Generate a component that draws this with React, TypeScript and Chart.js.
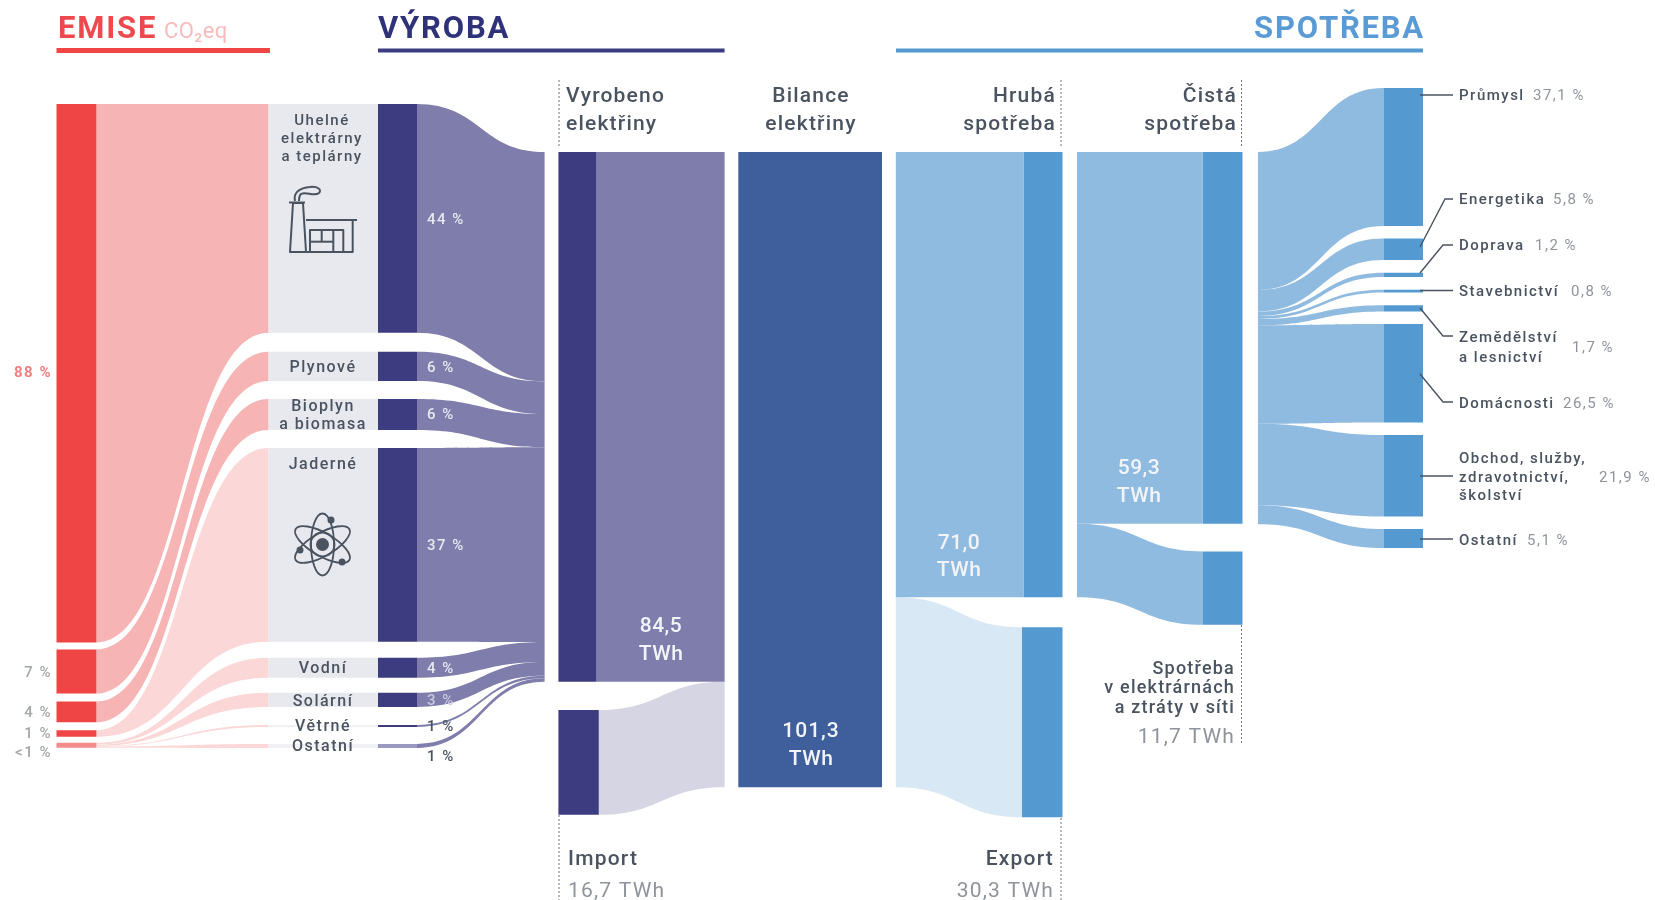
import React, { useEffect, useRef } from "react";
import { Chart, registerables } from "chart.js";

Chart.register(...registerables);

// ---- values ----
const grossTWh = 71.0;
const exportTWh = 30.3;
const netTWh = 59.3;
const ownUseTWh = 11.7;
const generatedTWh = 84.5;
const importTWh = 16.7;
const balanceTWh = 101.3;

const plantNames = ["Uhelné", "Plynové", "Bioplyn", "Jaderné", "Vodní", "Solární", "Větrné", "Ostatní"];
const plantBarTWh = [36.5, 4.65, 4.95, 30.9, 3.2, 2.25, 0.32, 0.64];
const plantFlowTWh = [36.6, 5.2, 5.3, 31.05, 3.2, 2.2, 0.4, 0.55];
const plantGapsTWh = [3.03, 2.87, 2.87, 2.55, 2.39, 2.87, 2.71];
const emissionBarPct = [88, 7.2, 3.4, 1.05, 0.8];
const emissionBarGapsPct = [1.14, 1.3, 1.3, 0.98];
const emissionFlowPct = [88, 7.2, 3.4, 1.05, 0.3, 0.2, 0.1, 0.2];
const sectorPct = [37.1, 5.8, 1.2, 0.8, 1.7, 26.5, 21.9, 5.1];

// ---- layout ----
const W = 1655;
const H = 900;
const PX_PER_TWH = 6.27;
const PX_PER_PCT = 6.12;
const TOP_TWH_PX = 152;
const TOP_PCT_PX = 104;
const PLANT_START = -7.66;
const SECTOR_START = -10.2;
const SECTOR_GAP = 2.0;
const IMPORT_START = 89;
const EXPORT_START = 75.8;
const OWN_START = 63.7;

const X = {
  red: [56.5, 96.4], pink: [96.4, 268.6], grey: [268.6, 378], navy: [378, 417], flow: [417, 544.6],
  gen: [558.4, 596.5], genFlow: [596.5, 724.6], imp: [558.4, 598.8], impFlow: [598.8, 724.6],
  bal: [738.3, 882], gross: [895.8, 1023.5], grossDark: [1023.5, 1062.5], exp: [895.8, 1022], expDark: [1022, 1062.5],
  net: [1077, 1202.5], netDark: [1202.5, 1242.5], own: [1077, 1203], ownDark: [1203, 1242.5],
  sec: [1258, 1383.5], secDark: [1383.5, 1423],
};

const C = {
  red: "#EF4545", redSoft: "#F58A8A", pink: "#F7B4B4", blush: "#FBD8D7", grey: "#E8E9EF", greyThin: "#F1F1F5",
  navy: "#3D3C80", navySoft: "#9A99C2", purple: "#7F7DAB", lilac: "#D6D5E4",
  bal: "#3E5F9B", sky: "#90BBE0", blue: "#5499D0", pale: "#D9E8F5",
  text: "#4A5360", mute: "#8F949C",
};

type Span = [number, number];
const stackGapped = (vals: number[], start: number, gaps: number[]): Span[] => {
  let p = start;
  return vals.map((v, i) => {
    const s: Span = [p, p + v];
    p += v + (gaps[i] ?? 0);
    return s;
  });
};
const stack = (vals: number[], start: number): Span[] => stackGapped(vals, start, []);

const sectorTWh = sectorPct.map((p) => (p * netTWh) / 100);
const plantBars = stackGapped(plantBarTWh, PLANT_START, plantGapsTWh);
const plantFlows = stack(plantFlowTWh, 0);
const sectorBars = stackGapped(sectorTWh, SECTOR_START, sectorTWh.map(() => SECTOR_GAP));
const sectorFlows = stack(sectorTWh, 0);
const emissionBars = stackGapped(emissionBarPct, 0, emissionBarGapsPct);
const emissionFlows: Span[] = (() => {
  const lastStart = emissionBars[4][0];
  const tail = stack(emissionFlowPct.slice(4), lastStart);
  return [...emissionBars.slice(0, 4), ...tail];
})();

const barSet = (edges: number[], spans: Span[], colors: string | string[], axis = "y") => ({
  type: "bar" as const,
  yAxisID: axis,
  data: spans.map((s) => ({ x: (edges[0] + edges[1]) / 2, y: s })),
  backgroundColor: colors,
  barThickness: edges[1] - edges[0],
  barPercentage: 1,
  categoryPercentage: 1,
  grouped: false,
  borderWidth: 0,
  inflateAmount: 0,
});

type Label = [string, number, number, "left" | "center" | "right", string, string];
const R = (w: number, s: number) => `${w} ${s}px Roboto`;
const INBAR = "#F3F4F9";
const labels: Label[] = [
  ["EMISE", 58, 38, "left", R(700, 31), "#EE4A4E"],
  ["CO₂eq", 164, 38, "left", R(400, 22), "#F9BBBB"],
  ["VÝROBA", 378, 38, "left", R(700, 31), "#2F3279"],
  ["SPOTŘEBA", 1425, 38, "right", R(700, 31), "#5B9BD5"],
  ["Vyrobeno", 566, 102, "left", R(500, 21), C.text],
  ["elektřiny", 566, 130, "left", R(500, 21), C.text],
  ["Bilance", 811, 102, "center", R(500, 21), C.text],
  ["elektřiny", 811, 130, "center", R(500, 21), C.text],
  ["Hrubá", 1056, 102, "right", R(500, 21), C.text],
  ["spotřeba", 1056, 130, "right", R(500, 21), C.text],
  ["Čistá", 1237, 102, "right", R(500, 21), C.text],
  ["spotřeba", 1237, 130, "right", R(500, 21), C.text],
  ["84,5", 661, 632, "center", R(500, 21), INBAR],
  ["TWh", 661, 660, "center", R(500, 21), INBAR],
  ["101,3", 811, 737, "center", R(500, 21), INBAR],
  ["TWh", 811, 765, "center", R(500, 21), INBAR],
  ["71,0", 959, 549, "center", R(500, 21), INBAR],
  ["TWh", 959, 576, "center", R(500, 21), INBAR],
  ["59,3", 1139, 474, "center", R(500, 21), INBAR],
  ["TWh", 1139, 502, "center", R(500, 21), INBAR],
  ["Import", 568, 865, "left", R(500, 21), C.text],
  ["16,7 TWh", 568, 897, "left", R(400, 21), C.mute],
  ["Export", 1054, 865, "right", R(500, 21), C.text],
  ["30,3 TWh", 1054, 897, "right", R(400, 21), C.mute],
  ["Spotřeba", 1235, 674, "right", R(500, 18), C.text],
  ["v elektrárnách", 1235, 693, "right", R(500, 18), C.text],
  ["a ztráty v síti", 1235, 713, "right", R(500, 18), C.text],
  ["11,7 TWh", 1235, 743, "right", R(400, 21), C.mute],
  ["88 %", 52, 377, "right", R(700, 15), "#F07F80"],
  ["7 %", 52, 677, "right", R(500, 15), "#A3A6AB"],
  ["4 %", 52, 717, "right", R(500, 15), "#A3A6AB"],
  ["1 %", 52, 738, "right", R(500, 15), "#A3A6AB"],
  ["<1 %", 52, 757, "right", R(500, 15), "#A3A6AB"],
  [plantNames[0], 322, 125, "center", R(500, 15), C.text],
  ["elektrárny", 322, 143, "center", R(500, 15), C.text],
  ["a teplárny", 322, 161, "center", R(500, 15), C.text],
  [plantNames[1], 323, 372, "center", R(500, 16), C.text],
  [plantNames[2], 323, 411, "center", R(500, 16), C.text],
  ["a biomasa", 323, 429, "center", R(500, 16), C.text],
  [plantNames[3], 323, 469, "center", R(500, 16), C.text],
  [plantNames[4], 323, 673, "center", R(500, 16), C.text],
  [plantNames[5], 323, 706, "center", R(500, 16), C.text],
  [plantNames[6], 323, 731, "center", R(500, 16), C.text],
  [plantNames[7], 323, 751, "center", R(500, 16), C.text],
  ["44 %", 427, 224, "left", R(500, 15), "#E8E8F2"],
  ["6 %", 427, 372, "left", R(500, 15), "#E8E8F2"],
  ["6 %", 427, 419, "left", R(500, 15), "#E8E8F2"],
  ["37 %", 427, 550, "left", R(500, 15), "#E8E8F2"],
  ["4 %", 427, 673, "left", R(500, 15), "#E8E8F2"],
  ["3 %", 427, 705, "left", R(500, 15), "#C9C9DE"],
  ["1 %", 427, 731, "left", R(500, 15), C.text],
  ["1 %", 427, 761, "left", R(500, 15), C.text],
  ["Průmysl", 1459, 100, "left", R(500, 15), C.text],
  ["37,1 %", 1533, 100, "left", R(400, 15), C.mute],
  ["Energetika", 1459, 204, "left", R(500, 15), C.text],
  ["5,8 %", 1553, 204, "left", R(400, 15), C.mute],
  ["Doprava", 1459, 250, "left", R(500, 15), C.text],
  ["1,2 %", 1535, 250, "left", R(400, 15), C.mute],
  ["Stavebnictví", 1459, 296, "left", R(500, 15), C.text],
  ["0,8 %", 1571, 296, "left", R(400, 15), C.mute],
  ["Zemědělství", 1459, 342, "left", R(500, 15), C.text],
  ["a lesnictví", 1459, 362, "left", R(500, 15), C.text],
  ["1,7 %", 1572, 352, "left", R(400, 15), C.mute],
  ["Domácnosti", 1459, 408, "left", R(500, 15), C.text],
  ["26,5 %", 1563, 408, "left", R(400, 15), C.mute],
  ["Obchod, služby,", 1459, 463, "left", R(500, 15), C.text],
  ["zdravotnictví,", 1459, 482, "left", R(500, 15), C.text],
  ["školství", 1459, 500, "left", R(500, 15), C.text],
  ["21,9 %", 1599, 482, "left", R(400, 15), C.mute],
  ["Ostatní", 1459, 545, "left", R(500, 15), C.text],
  ["5,1 %", 1527, 545, "left", R(400, 15), C.mute],
];

const spacingFor = (text: string, font: string, color: string) => {
  if (font.includes("31px")) return "1.8px";
  if (font.includes("22px")) return "0.4px";
  if (color === INBAR) return text === "101,3" ? "1px" : "0.5px";
  if (font.includes("21px") || font.includes("18px")) return "1.2px";
  return "1.5px";
};

const leaders: number[][] = [
  [1420, 95, 1453, 95],
  [1420, 247, 1445, 199, 1453, 199],
  [1420, 273, 1443, 245, 1453, 245],
  [1420, 290.5, 1453, 290.5],
  [1420, 308, 1443, 336, 1453, 336],
  [1420, 374, 1443, 402, 1453, 402],
  [1420, 476, 1453, 476],
  [1420, 539, 1453, 539],
];
const dotted: number[][] = [
  [559, 80, 147], [559, 815, 900],
  [1061, 80, 147], [1061, 818, 900],
  [1241.5, 80, 147], [1241.5, 625, 743],
];
const rules: [number, number, number, number, string][] = [
  [56.5, 270, 48, 5, C.red],
  [378, 724.6, 48.5, 4, C.navy],
  [896, 1423, 48.5, 4, C.blue],
];

const ribbon = (
  ctx: CanvasRenderingContext2D, e: number[], a: number, b: number, c: number, d: number, color: string,
) => {
  const m = (e[0] + e[1]) / 2;
  ctx.beginPath();
  ctx.moveTo(e[0], a);
  ctx.bezierCurveTo(m, a, m, c, e[1], c);
  ctx.lineTo(e[1], d);
  ctx.bezierCurveTo(m, d, m, b, e[0], b);
  ctx.closePath();
  ctx.fillStyle = color;
  ctx.fill();
};

const ribbonsPlugin = {
  id: "ribbons",
  beforeDatasetsDraw(chart: any) {
    const { ctx, scales } = chart;
    const y = (v: number) => scales.y.getPixelForValue(v);
    const p = (v: number) => scales.yPct.getPixelForValue(v);
    ctx.save();
    emissionFlows.forEach((s, i) =>
      ribbon(ctx, X.pink, p(s[0]), p(s[1]), y(plantBars[i][0]), y(plantBars[i][1]), i < 3 ? C.pink : C.blush));
    plantBars.forEach((s, i) =>
      ribbon(ctx, X.flow, y(s[0]), y(s[1]), y(plantFlows[i][0]), y(plantFlows[i][1]), C.purple));
    ribbon(ctx, X.impFlow, y(IMPORT_START), y(IMPORT_START + importTWh), y(generatedTWh), y(balanceTWh), C.lilac);
    ribbon(ctx, X.exp, y(grossTWh), y(balanceTWh), y(EXPORT_START), y(EXPORT_START + exportTWh), C.pale);
    ribbon(ctx, X.own, y(netTWh), y(grossTWh), y(OWN_START), y(OWN_START + ownUseTWh), C.sky);
    sectorFlows.forEach((s, i) =>
      ribbon(ctx, X.sec, y(s[0]), y(s[1]), y(sectorBars[i][0]), y(sectorBars[i][1]), C.sky));
    ctx.restore();
  },
  afterDatasetsDraw(chart: any) {
    const { ctx } = chart;
    ctx.save();
    rules.forEach(([a, b, t, h, c]) => { ctx.fillStyle = c; ctx.fillRect(a, t, b - a, h); });
    ctx.strokeStyle = "#6F7680";
    ctx.lineWidth = 1;
    ctx.setLineDash([2, 2]);
    dotted.forEach(([x, a, b]) => { ctx.beginPath(); ctx.moveTo(x, a); ctx.lineTo(x, b); ctx.stroke(); });
    ctx.setLineDash([]);
    ctx.strokeStyle = C.text;
    ctx.lineWidth = 1.4;
    leaders.forEach((l) => {
      ctx.beginPath();
      ctx.moveTo(l[0], l[1]);
      for (let i = 2; i < l.length; i += 2) ctx.lineTo(l[i], l[i + 1]);
      ctx.stroke();
    });
    // factory icon
    ctx.strokeStyle = C.text;
    ctx.lineWidth = 2;
    ctx.lineJoin = "round";
    const poly = (pts: number[], close = false) => {
      ctx.beginPath();
      ctx.moveTo(pts[0], pts[1]);
      for (let i = 2; i < pts.length; i += 2) ctx.lineTo(pts[i], pts[i + 1]);
      if (close) ctx.closePath();
      ctx.stroke();
    };
    poly([290, 252, 306, 252, 303, 203, 293, 203], true);
    poly([289, 202.5, 305, 202.5]);
    ctx.beginPath();
    ctx.moveTo(295, 201);
    ctx.bezierCurveTo(293, 192, 300, 188, 310, 187);
    ctx.bezierCurveTo(318, 186, 322, 190, 319, 193);
    ctx.bezierCurveTo(314, 197, 306, 191, 301, 194);
    ctx.bezierCurveTo(299, 196, 299, 199, 299, 201);
    ctx.stroke();
    poly([306, 220, 357, 220]);
    poly([352.7, 220, 352.7, 252, 306, 252]);
    poly([310, 252, 310, 230, 343.3, 230, 343.3, 252]);
    poly([310, 241.7, 333.3, 241.7]);
    poly([333.3, 230, 333.3, 252]);
    poly([321.7, 230, 321.7, 241.7]);
    // atom icon
    const cx = 322.5, cy = 544.5;
    ctx.lineWidth = 1.8;
    [Math.PI / 2, Math.PI / 6, -Math.PI / 6].forEach((rot) => {
      ctx.beginPath();
      ctx.ellipse(cx, cy, 31, 11.5, rot, 0, Math.PI * 2);
      ctx.stroke();
    });
    ctx.fillStyle = C.text;
    ctx.beginPath(); ctx.arc(cx, cy, 6.5, 0, Math.PI * 2); ctx.fill();
    ctx.beginPath(); ctx.arc(cx, cy, 12, 0, Math.PI * 2); ctx.stroke();
    [[331, 520], [300, 550], [342, 562]].forEach(([ex, ey]) => {
      ctx.beginPath(); ctx.arc(ex, ey, 3.5, 0, Math.PI * 2); ctx.fill();
    });
    // text
    ctx.textBaseline = "alphabetic";
    labels.forEach(([t, x, yy, align, font, color]) => {
      ctx.font = font;
      ctx.textAlign = align;
      ctx.fillStyle = color;
      ctx.letterSpacing = spacingFor(t, font, color);
      ctx.fillText(t, x, yy);
    });
    ctx.letterSpacing = "0px";
    ctx.restore();
  },
};

export default function App() {
  const ref = useRef<HTMLCanvasElement>(null);
  useEffect(() => {
    if (!ref.current) return;
    const navyBars = plantNames.map((_, i) => (i === 7 ? C.navySoft : C.navy));
    const greyBars = plantNames.map((_, i) => (i >= 6 ? C.greyThin : C.grey));
    const redBars = emissionBarPct.map((_, i) => (i === 4 ? C.redSoft : C.red));
    const chart = new Chart(ref.current, {
      data: {
        datasets: [
          barSet(X.red, emissionBars, redBars, "yPct"),
          barSet(X.grey, plantBars, greyBars),
          barSet(X.navy, plantBars, navyBars),
          barSet(X.gen, [[0, generatedTWh]], C.navy),
          barSet(X.genFlow, [[0, generatedTWh]], C.purple),
          barSet(X.imp, [[IMPORT_START, IMPORT_START + importTWh]], C.navy),
          barSet(X.bal, [[0, balanceTWh]], C.bal),
          barSet(X.gross, [[0, grossTWh]], C.sky),
          barSet(X.grossDark, [[0, grossTWh]], C.blue),
          barSet(X.expDark, [[EXPORT_START, EXPORT_START + exportTWh]], C.blue),
          barSet(X.net, [[0, netTWh]], C.sky),
          barSet(X.netDark, [[0, netTWh]], C.blue),
          barSet(X.ownDark, [[OWN_START, OWN_START + ownUseTWh]], C.blue),
          barSet(X.secDark, sectorBars, C.blue),
        ],
      } as any,
      options: {
        animation: false,
        responsive: false,
        layout: { padding: 0 },
        plugins: { legend: { display: false }, tooltip: { enabled: false } },
        scales: {
          x: { type: "linear", min: 0, max: W, display: false, offset: false },
          y: {
            type: "linear", reverse: true, display: false,
            min: -TOP_TWH_PX / PX_PER_TWH, max: (H - TOP_TWH_PX) / PX_PER_TWH,
          },
          yPct: {
            type: "linear", reverse: true, display: false,
            min: -TOP_PCT_PX / PX_PER_PCT, max: (H - TOP_PCT_PX) / PX_PER_PCT,
          },
        },
      } as any,
      plugins: [ribbonsPlugin],
    });
    return () => chart.destroy();
  }, []);
  return (
    <div style={{ position: "absolute", left: 0, top: 0, width: W, height: H, background: "#fff" }}>
      <canvas ref={ref} width={W} height={H} style={{ display: "block" }} />
    </div>
  );
}
